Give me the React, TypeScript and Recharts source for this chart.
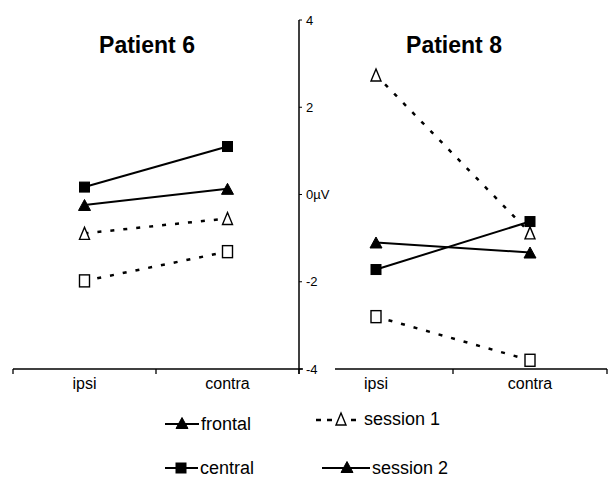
import React from 'react';
import { LineChart, Line, XAxis, YAxis } from 'recharts';

const categories = ['ipsi', 'contra'];
const p6Pos = [0.5, 1.5];
const p8Pos = [2.5, 3.5];
const p6Frontal1 = [-0.89, -0.55];
const p6Central1 = [-1.98, -1.31];
const p6Frontal2 = [-0.24, 0.13];
const p6Central2 = [0.17, 1.1];
const p8Frontal1 = [2.74, -0.88];
const p8Central1 = [-2.8, -3.8];
const p8Frontal2 = [-1.1, -1.33];
const p8Central2 = [-1.72, -0.62];
const yTicks = [-4, -2, 0, 2, 4];
const p6XTicks = [0, 0.5, 1, 1.5, 2];
const p8XTicks = [2, 2.5, 3, 3.5, 4];
const titles = ['Patient 6', 'Patient 8'];
const siteNames = ['frontal', 'central'];
const sessionNames = ['session 1', 'session 2'];

const FONT = '"Liberation Sans", Arial, sans-serif';

const p6Data = categories.map((c, i) => ({
  x: p6Pos[i], label: c,
  frontal1: p6Frontal1[i], central1: p6Central1[i],
  frontal2: p6Frontal2[i], central2: p6Central2[i],
}));
const p8Data = categories.map((c, i) => ({
  x: p8Pos[i], label: c,
  frontal1: p8Frontal1[i], central1: p8Central1[i],
  frontal2: p8Frontal2[i], central2: p8Central2[i],
}));

type Shape = 'tri' | 'sq';
const Marker = ({ cx, cy, shape, filled, k }: { cx: number; cy: number; shape: Shape; filled: boolean; k?: string }) => {
  if (cx == null || cy == null) return null;
  const fill = filled ? '#000' : '#fff';
  const sw = filled ? 1 : 1.4;
  if (shape === 'sq') {
    const w = 10;
    const h = filled ? 10 : 12;
    return <rect key={k} x={cx - w / 2} y={cy - h / 2} width={w} height={h} fill={fill} stroke="#000" strokeWidth={sw} />;
  }
  const w = filled ? 12 : 10;
  const h = filled ? 11 : 12;
  return (
    <polygon key={k}
      points={`${cx},${cy - h / 2} ${cx + w / 2},${cy + h / 2} ${cx - w / 2},${cy + h / 2}`}
      fill={fill} stroke="#000" strokeWidth={sw} strokeLinejoin="miter" />
  );
};

const makeDot = (shape: Shape, filled: boolean, id: string) => (props: any) => (
  <Marker key={`${id}-${props.index}`} k={`${id}-${props.index}`} cx={props.cx} cy={props.cy} shape={shape} filled={filled} />
);

const XTick = (props: any) => {
  const { x, y, payload } = props;
  const v = payload.value as number;
  if (Number.isInteger(v)) {
    return <line x1={x} x2={x} y1={y - 5} y2={y} stroke="#000" strokeWidth={1.3} />;
  }
  const label = categories[Math.floor(v) % 2];
  return (
    <text x={x} y={y + 15} textAnchor="middle" fontFamily={FONT} fontSize={16} fill="#000">{label}</text>
  );
};

const YTick = (props: any) => {
  const { x, y, payload } = props;
  const v = payload.value as number;
  const label = v === 0 ? '0µV' : String(v);
  return (
    <g>
      <rect x={x - 3} y={y - 7} width={32} height={14} fill="#fff" />
      <text x={x} y={y} dy="0.35em" textAnchor="start" fontFamily={FONT} fontSize={13} fill="#000">{label}</text>
    </g>
  );
};

const seriesLines = (prefix: string) => [
  <Line key={`${prefix}f1`} dataKey="frontal1" stroke="#000" strokeWidth={2.5} strokeDasharray="4 9" isAnimationActive={false} dot={makeDot('tri', false, `${prefix}f1`)} activeDot={false} />,
  <Line key={`${prefix}c1`} dataKey="central1" stroke="#000" strokeWidth={2.5} strokeDasharray="4 9" isAnimationActive={false} dot={makeDot('sq', false, `${prefix}c1`)} activeDot={false} />,
  <Line key={`${prefix}f2`} dataKey="frontal2" stroke="#000" strokeWidth={2} isAnimationActive={false} dot={makeDot('tri', true, `${prefix}f2`)} activeDot={false} />,
  <Line key={`${prefix}c2`} dataKey="central2" stroke="#000" strokeWidth={2} isAnimationActive={false} dot={makeDot('sq', true, `${prefix}c2`)} activeDot={false} />,
];

export default function App() {
  return (
    <div style={{ position: 'absolute', left: 0, top: 0, width: 610, height: 479, background: '#fff', fontFamily: FONT }}>
      <div style={{ position: 'absolute', left: 0, top: 0 }}>
        <LineChart width={300} height={479} data={p6Data} margin={{ top: 20, right: 1, bottom: 80, left: 13 }}>
          <XAxis dataKey="x" type="number" domain={[0, 2]} ticks={p6XTicks} interval={0}
            axisLine={{ stroke: '#000', strokeWidth: 1.5 }} tickLine={false} tickSize={5} tickMargin={0}
            tick={XTick} height={30} />
          <YAxis hide type="number" domain={[-4, 4]} />
          {seriesLines('p6')}
        </LineChart>
      </div>
      <div style={{ position: 'absolute', left: 290, top: 0 }}>
        <LineChart width={320} height={479} data={p8Data} margin={{ top: 20, right: 3, bottom: 80, left: 9 }}>
          <XAxis dataKey="x" type="number" domain={[2, 4]} ticks={p8XTicks} interval={0}
            axisLine={{ stroke: '#000', strokeWidth: 1.5 }} tickLine={false} tickSize={5} tickMargin={0}
            tick={XTick} height={30} />
          <YAxis type="number" domain={[-4, 4]} ticks={yTicks} interval={0} mirror orientation="left"
            axisLine={{ stroke: '#000', strokeWidth: 1.5 }} tickLine={{ stroke: '#000', strokeWidth: 1 }}
            tickSize={3} tickMargin={4} tick={YTick} />
          {seriesLines('p8')}
        </LineChart>
      </div>
      <svg width={610} height={479} style={{ position: 'absolute', left: 0, top: 0, pointerEvents: 'none' }}>
        <text x={147} y={53} textAnchor="middle" fontFamily={FONT} fontWeight="bold" fontSize={23} fill="#000">{titles[0]}</text>
        <text x={454} y={53} textAnchor="middle" fontFamily={FONT} fontWeight="bold" fontSize={23} fill="#000">{titles[1]}</text>

        <line x1={165} x2={199} y1={424} y2={424} stroke="#000" strokeWidth={2} />
        <Marker cx={182} cy={423} shape="tri" filled={true} />
        <text x={201} y={430} fontFamily={FONT} fontSize={18} fill="#000">{siteNames[0]}</text>

        <line x1={165} x2={198} y1={468} y2={468} stroke="#000" strokeWidth={2} />
        <Marker cx={181} cy={468} shape="sq" filled={true} />
        <text x={200} y={474} fontFamily={FONT} fontSize={18} fill="#000">{siteNames[1]}</text>

        <line x1={316} x2={321} y1={420} y2={420} stroke="#000" strokeWidth={2.5} />
        <line x1={327} x2={332} y1={420} y2={420} stroke="#000" strokeWidth={2.5} />
        <line x1={351} x2={356} y1={420} y2={420} stroke="#000" strokeWidth={2.5} />
        <Marker cx={341} cy={419} shape="tri" filled={false} />
        <text x={364} y={425} fontFamily={FONT} fontSize={18} fill="#000">{sessionNames[0]}</text>

        <line x1={322} x2={370} y1={468} y2={468} stroke="#000" strokeWidth={2} />
        <Marker cx={347} cy={467} shape="tri" filled={true} />
        <text x={372} y={474} fontFamily={FONT} fontSize={18} fill="#000">{sessionNames[1]}</text>
      </svg>
    </div>
  );
}
